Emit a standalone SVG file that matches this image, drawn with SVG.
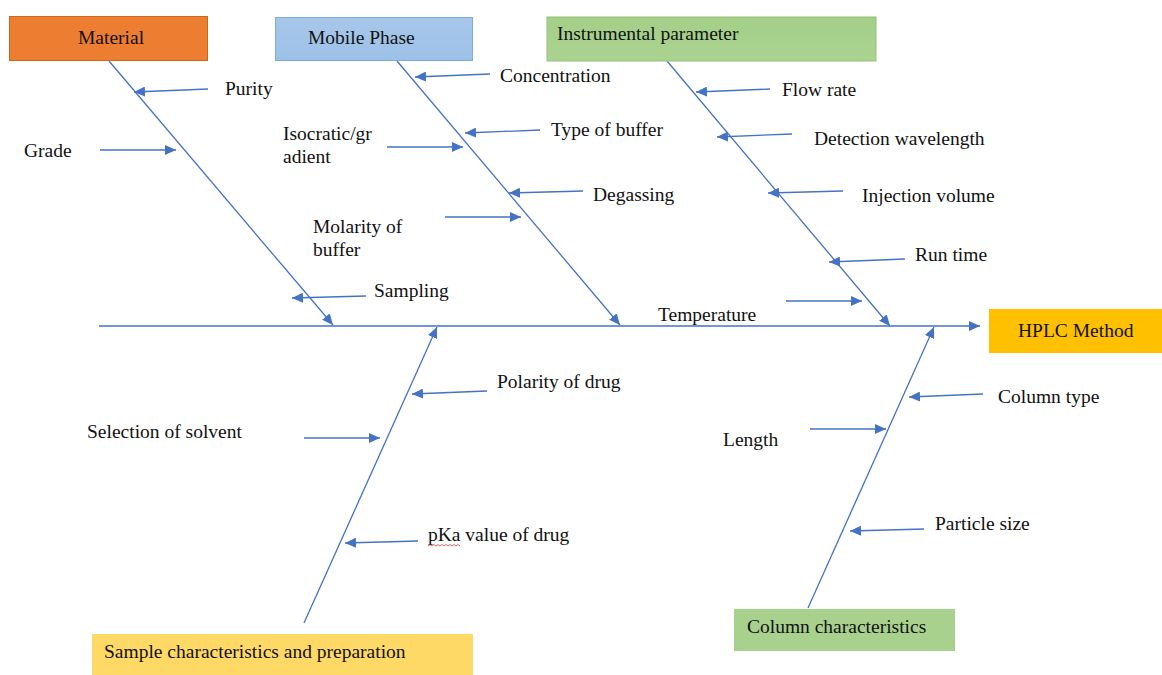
<svg xmlns="http://www.w3.org/2000/svg" width="1162" height="675" viewBox="0 0 1162 675">
<style>
  text { font-family: "Liberation Serif", "Times New Roman", serif; font-size: 19.5px; fill: #111; }
  .c { stroke: #4472C4; stroke-width: 1.3; fill: none; marker-end: url(#ah); }
</style>
<defs>
  <marker id="ah" markerUnits="userSpaceOnUse" markerWidth="12" markerHeight="10" refX="11" refY="5" orient="auto">
    <path d="M0,0 L11,5 L0,10 Z" fill="#4472C4"/>
  </marker>
  <linearGradient id="gBlue" x1="0" y1="0" x2="0" y2="1">
    <stop offset="0" stop-color="#A8C7EA"/>
    <stop offset="1" stop-color="#9CC1E8"/>
  </linearGradient>
  <linearGradient id="gGreen" x1="0" y1="0" x2="0" y2="1">
    <stop offset="0" stop-color="#A3CF88"/>
    <stop offset="1" stop-color="#AAD390"/>
  </linearGradient>
</defs>
<rect width="1162" height="675" fill="#fff"/>

<g id="connectors">
  <!-- spine -->
  <line class="c" x1="99" y1="326" x2="980" y2="326"/>
  <!-- main bones -->
  <line class="c" x1="109" y1="61" x2="333" y2="325"/>
  <line class="c" x1="397" y1="61" x2="620" y2="325"/>
  <line class="c" x1="667" y1="61" x2="890" y2="326"/>
  <line class="c" x1="304" y1="623" x2="437" y2="327"/>
  <line class="c" x1="808" y1="608" x2="934" y2="327"/>
  <!-- material sub-arrows -->
  <line class="c" x1="208" y1="89" x2="134" y2="92"/>
  <line class="c" x1="100" y1="150" x2="176" y2="150"/>
  <line class="c" x1="366" y1="296" x2="292" y2="298"/>
  <!-- mobile phase sub-arrows -->
  <line class="c" x1="490" y1="74" x2="415" y2="77"/>
  <line class="c" x1="540" y1="130" x2="465" y2="133"/>
  <line class="c" x1="387" y1="147" x2="463" y2="147"/>
  <line class="c" x1="583" y1="191" x2="509" y2="193"/>
  <line class="c" x1="445" y1="217" x2="521" y2="217"/>
  <!-- instrumental sub-arrows -->
  <line class="c" x1="770" y1="89" x2="696" y2="92"/>
  <line class="c" x1="792" y1="134" x2="717" y2="137"/>
  <line class="c" x1="843" y1="191" x2="768" y2="193"/>
  <line class="c" x1="905" y1="259" x2="829" y2="262"/>
  <line class="c" x1="786" y1="301" x2="862" y2="301"/>
  <!-- sample sub-arrows -->
  <line class="c" x1="487" y1="391" x2="412" y2="394"/>
  <line class="c" x1="304" y1="438" x2="380" y2="438"/>
  <line class="c" x1="418" y1="541" x2="345" y2="543"/>
  <!-- column sub-arrows -->
  <line class="c" x1="983" y1="394" x2="909" y2="397"/>
  <line class="c" x1="810" y1="429" x2="886" y2="429"/>
  <line class="c" x1="924" y1="529" x2="850" y2="531"/>
</g>

<g id="material">
  <rect x="9.5" y="16.5" width="198" height="44" fill="#ED7D31" stroke="#C9671F" stroke-width="1"/>
  <text x="78" y="44">Material</text>
</g>
<g id="mobile-phase">
  <rect x="275.5" y="17.5" width="197" height="43" fill="url(#gBlue)" stroke="#7EA9DB" stroke-width="1"/>
  <text x="308" y="44">Mobile Phase</text>
</g>
<g id="instrumental-parameter">
  <rect x="547" y="17" width="329" height="44" fill="url(#gGreen)" stroke="#93C179" stroke-width="1"/>
  <text x="557" y="40">Instrumental parameter</text>
</g>
<g id="hplc-method">
  <rect x="989" y="309" width="173" height="44" fill="#FFC000"/>
  <text x="1018" y="337">HPLC Method</text>
</g>
<g id="sample-characteristics">
  <rect x="92" y="634" width="381" height="41" fill="#FFD966"/>
  <text x="104" y="658">Sample characteristics and preparation</text>
</g>
<g id="column-characteristics">
  <rect x="734" y="609" width="221" height="42" fill="#A9D18E"/>
  <text x="747" y="633">Column characteristics</text>
</g>

<g id="cause-labels">
  <text x="225" y="95">Purity</text>
  <text x="24" y="157">Grade</text>
  <text x="374" y="297">Sampling</text>
  <text x="500" y="82">Concentration</text>
  <text x="283" y="140">Isocratic/gr</text>
  <text x="283" y="163">adient</text>
  <text x="551" y="136">Type of buffer</text>
  <text x="593" y="201">Degassing</text>
  <text x="313" y="233">Molarity of</text>
  <text x="313" y="256">buffer</text>
  <text x="782" y="96">Flow rate</text>
  <text x="814" y="145">Detection wavelength</text>
  <text x="862" y="202">Injection volume</text>
  <text x="915" y="261">Run time</text>
  <text x="658" y="321">Temperature</text>
  <text x="497" y="388">Polarity of drug</text>
  <text x="87" y="438">Selection of solvent</text>
  <text x="428" y="541">pKa value of drug</text>
  <text x="998" y="403">Column type</text>
  <text x="723" y="446">Length</text>
  <text x="935" y="530">Particle size</text>
  <path d="M428,546 l2,-1.5 l2,1.5 l2,-1.5 l2,1.5 l2,-1.5 l2,1.5 l2,-1.5 l2,1.5 l2,-1.5 l2,1.5 l2,-1.5 l2,1.5 l2,-1.5 l2,1.5 l2,-1.5 l2,1.5" fill="none" stroke="#D04040" stroke-width="0.8"/>
</g>
</svg>
